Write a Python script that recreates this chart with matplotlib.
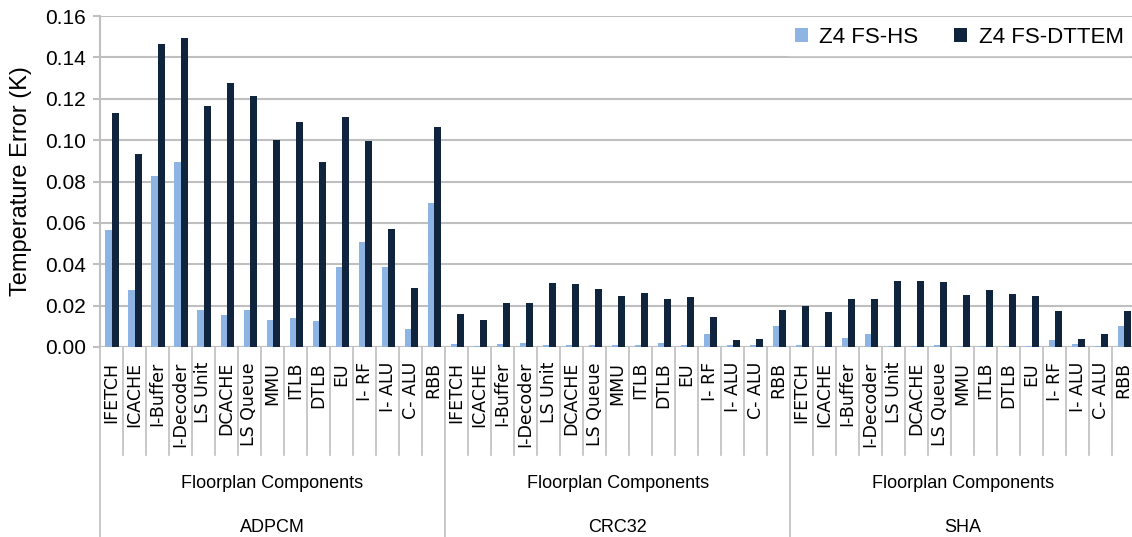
import numpy as np
import matplotlib.pyplot as plt
import matplotlib.transforms as mtransforms

components = ["IFETCH", "ICACHE", "I-Buffer", "I-Decoder", "LS Unit", "DCACHE",
              "LS Queue", "MMU", "ITLB", "DTLB", "EU", "I- RF", "I- ALU",
              "C- ALU", "RBB"]
benchmarks = ["ADPCM", "CRC32", "SHA"]
group_label = "Floorplan Components"

# Z4 FS-HS, per benchmark
hs_adpcm = [0.0565, 0.0277, 0.0826, 0.0892, 0.0177, 0.0153, 0.0177, 0.0132,
            0.0140, 0.0126, 0.0385, 0.0508, 0.0385, 0.0085, 0.0695]
hs_crc32 = [0.0013, 0.0006, 0.0013, 0.0020, 0.0008, 0.0008, 0.0010, 0.0008,
            0.0010, 0.0019, 0.0010, 0.0061, 0.0008, 0.0008, 0.0100]
hs_sha = [0.0008, 0.0006, 0.0045, 0.0061, 0.0006, 0.0006, 0.0008, 0.0006,
          0.0006, 0.0006, 0.0006, 0.0034, 0.0013, 0.0006, 0.0100]

# Z4 FS-DTTEM, per benchmark
dt_adpcm = [0.1132, 0.0934, 0.1463, 0.1495, 0.1166, 0.1277, 0.1215, 0.1003,
            0.1090, 0.0892, 0.1111, 0.0995, 0.0571, 0.0284, 0.1065]
dt_crc32 = [0.0158, 0.0129, 0.0211, 0.0211, 0.0308, 0.0302, 0.0281, 0.0247,
            0.0260, 0.0230, 0.0239, 0.0144, 0.0034, 0.0039, 0.0177]
dt_sha = [0.0198, 0.0171, 0.0231, 0.0231, 0.0321, 0.0321, 0.0313, 0.0253,
          0.0273, 0.0255, 0.0245, 0.0176, 0.0039, 0.0061, 0.0176]

series_names = ["Z4 FS-HS", "Z4 FS-DTTEM"]
colors = ["#8DB4E2", "#10243E"]

hs = np.array(hs_adpcm + hs_crc32 + hs_sha)
dt = np.array(dt_adpcm + dt_crc32 + dt_sha)
labels = components * len(benchmarks)
n = len(labels)
x = np.arange(n)

fig = plt.figure(figsize=(11.32, 5.37), dpi=100)
ax = fig.add_axes([0.0883, 0.354, 0.9145, 0.616])

w = 0.29
ax.bar(x - w / 2 + 0.03, hs, w, color=colors[0], label=series_names[0], zorder=3)
ax.bar(x + w / 2 + 0.03, dt, w, color=colors[1], label=series_names[1], zorder=3)

ax.set_xlim(-0.5, n - 0.5)
ax.set_ylim(0, 0.16)
yt = np.arange(0, 0.161, 0.02)
ax.set_yticks(yt)
ax.set_yticklabels(["%.2f" % v for v in yt], family="Liberation Sans", fontsize=15)
ax.tick_params(axis="y", length=5, color="#BFBFBF", width=1.5, pad=5)
ax.set_xticks([])
ax.grid(axis="y", color="#BFBFBF", linewidth=1.5, zorder=0)
for s in ["top", "right", "bottom"]:
    ax.spines[s].set_visible(False)
ax.spines["left"].set_color("#BFBFBF")
ax.spines["left"].set_linewidth(1.5)
ax.axhline(0, color="#BFBFBF", linewidth=1.5, zorder=2)

ax.set_ylabel("Temperature Error (K)", fontsize=17, family="Liberation Sans")
ax.yaxis.set_label_coords(-0.0657, 0.5)

# multi-level category axis
trans = mtransforms.blended_transform_factory(ax.transData, ax.transAxes)
ax_h = 0.616 * 537  # axes height in px
def ay(py):
    return -(py - 347) / ax_h

for i, lab in enumerate(labels):
    ax.text(i, ay(362), lab, transform=trans, rotation=90, ha="center", va="top",
            fontsize=12.5, family="DejaVu Sans")
for i in range(n + 1):
    if i % len(components) == 0:
        bottom = ay(537)
    else:
        bottom = ay(455)
    ax.plot([i - 0.5, i - 0.5], [0, bottom], transform=trans, color="#BFBFBF",
            linewidth=1.2, clip_on=False)
for g, name in enumerate(benchmarks):
    cx = g * len(components) + (len(components) - 1) / 2
    ax.text(cx, ay(484), group_label, transform=trans, ha="center", va="center",
            fontsize=13, family="Liberation Sans")
    ax.text(cx, ay(528), name, transform=trans, ha="center", va="center",
            fontsize=13, family="Liberation Sans")

leg = ax.legend(loc="upper right", bbox_to_anchor=(1.006, 1.02), ncol=2, frameon=True,
                prop={"family": "Liberation Sans", "size": 16},
                handlelength=0.6, handleheight=0.6, columnspacing=1.6,
                handletextpad=0.5, borderpad=0.3)
leg.get_frame().set_edgecolor("white")
leg.get_frame().set_facecolor("white")
leg.get_frame().set_alpha(1)
leg.get_frame().set_boxstyle("square", pad=0)

fig.savefig("out.png", dpi=100)
